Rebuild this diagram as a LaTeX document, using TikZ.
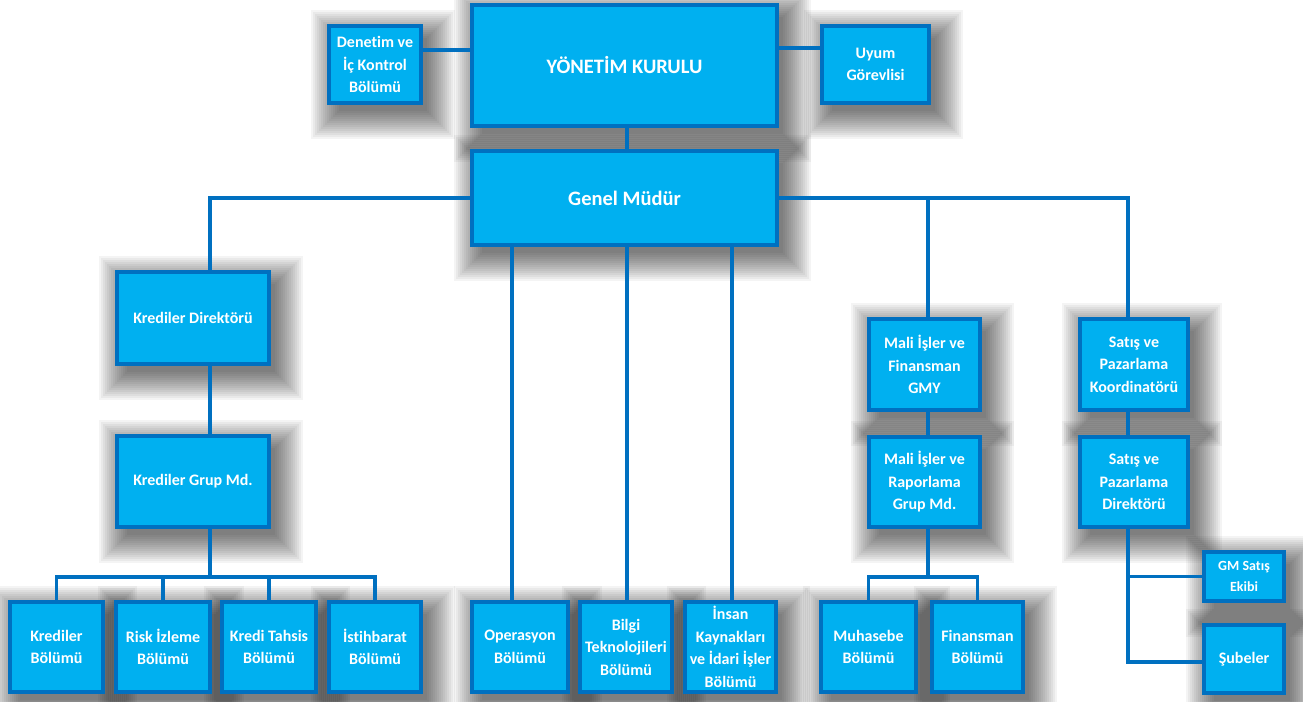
\documentclass[tikz,border=0pt]{standalone}
\usepackage{fontspec}
\setmainfont{Carlito}[Ligatures=CommonOff]
\usetikzlibrary{calc}
\pgfdeclarelayer{bgfill}
\pgfdeclarelayer{shadow}
\pgfsetlayers{bgfill,shadow,main}
\definecolor{boxfill}{HTML}{00B0F0}
\definecolor{boxline}{HTML}{0070C0}
\tikzset{
  box/.style={draw=boxline, line width=4pt, fill=boxfill, text=white,
    font=\bfseries\fontsize{16}{22.5}\selectfont, align=center, inner sep=0pt},
  bigbox/.style={box, font=\bfseries\fontsize{20.5}{24}\selectfont},
  smallbox/.style={box, font=\bfseries\fontsize{14}{21}\selectfont},
  conn/.style={draw=boxline, line width=3.5pt},
  shadowlayer/.style={fill=black, opacity=0.045}
}
\begin{document}
\begin{tikzpicture}[x=1pt,y=-1pt]
\begin{pgfonlayer}{bgfill}
\fill[white] (0,0) rectangle (1303,701);
\end{pgfonlayer}
\useasboundingbox (0,0) rectangle (1303,701);
% top
\node[bigbox, minimum width=305, minimum height=121] (yk) at (624.5,65.5) {YÖNETİM KURULU};
\node[box, minimum width=92, minimum height=77] (den) at (375,64.5) {Denetim ve\\İç Kontrol\\Bölümü};
\node[box, minimum width=107, minimum height=77] (uy) at (875.5,64.5) {Uyum\\Görevlisi};
\node[bigbox, minimum width=305, minimum height=94] (gm) at (624.5,198) {Genel Müdür};
% left branch
\node[box, minimum width=152, minimum height=92] (kd) at (193,318) {Krediler Direktörü};
\node[box, minimum width=152, minimum height=91] (kg) at (193,481.5) {Krediler Grup Md.};
\node[box, minimum width=93, minimum height=90] (kb) at (56.5,647) {Krediler\\Bölümü};
\node[box, minimum width=94, minimum height=90] (ri) at (163,647) {Risk İzleme\\Bölümü};
\node[box, minimum width=94, minimum height=90] (kt) at (269,647) {Kredi Tahsis\\Bölümü};
\node[box, minimum width=92, minimum height=90] (ist) at (375,647) {İstihbarat\\Bölümü};
% middle
\node[box, minimum width=96, minimum height=90] (op) at (520,647) {Operasyon\\Bölümü};
\node[box, minimum width=92, minimum height=90] (bt) at (626,647) {Bilgi\\Teknolojileri\\Bölümü};
\node[box, minimum width=91, minimum height=90] (ik) at (730.5,647) {İnsan\\Kaynakları\\ve İdari İşler\\Bölümü};
% finance
\node[box, minimum width=111, minimum height=91] (mf) at (924.5,364.5) {Mali İşler ve\\Finansman\\GMY};
\node[box, minimum width=111, minimum height=90] (mr) at (924.5,482) {Mali İşler ve\\Raporlama\\Grup Md.};
\node[box, minimum width=95, minimum height=90] (mu) at (868.5,647) {Muhasebe\\Bölümü};
\node[box, minimum width=91, minimum height=90] (fi) at (977.5,647) {Finansman\\Bölümü};
% sales
\node[box, minimum width=108, minimum height=91] (sk) at (1134,364.5) {Satış ve\\Pazarlama\\Koordinatörü};
\node[box, minimum width=108, minimum height=90] (sd) at (1134,482) {Satış ve\\Pazarlama\\Direktörü};
\node[smallbox, minimum width=80, minimum height=49] (gs) at (1244,576.5) {GM Satış\\Ekibi};
\node[box, minimum width=80, minimum height=68] (su) at (1244,659) {Şubeler};

% soft shadows
\begin{pgfonlayer}{shadow}
\foreach \n in {yk,den,uy,gm,kd,kg,kb,ri,kt,ist,op,bt,ik,mf,mr,mu,fi,sk,sd,gs,su}{
  \foreach \r in {0,2,...,28}{
    \fill[shadowlayer] ($(\n.north west)+(12-\r,14-\r)$) rectangle ($(\n.south east)+(4+\r,6+\r)$);
  }
}
\end{pgfonlayer}

% connectors
\draw[conn] ([yshift=14.5pt]den.east) -- ([yshift=14.5pt]den.east -| yk.west);
\draw[conn] ([yshift=16.5pt]uy.west) -- ([yshift=16.5pt]uy.west -| yk.east);
\draw[conn] ([xshift=2.5pt]yk.south) -- ([xshift=2.5pt]gm.north);
\draw[conn] (gm.west) -| ([xshift=17pt]kd.north);
\draw[conn] (gm.east) -| ([xshift=-6pt]sk.north);
\draw[conn] ([xshift=3.5pt]mf.north) -- ([xshift=3.5pt]mf.north |- gm.east);
\draw[conn] ([xshift=17pt]kd.south) -- ([xshift=17pt]kg.north);
\coordinate (kbus) at (210,577);
\draw[conn] ([xshift=17pt]kg.south) -- (kbus);
\draw[conn] (kb.north) |- (kbus) -| (ist.north);
\draw[conn] (ri.north) -- (ri.north |- kbus);
\draw[conn] (kt.north) -- (kt.north |- kbus);
\draw[conn] ([xshift=-8pt]op.north) -- ([xshift=-8pt]op.north |- gm.south);
\draw[conn] ([xshift=1pt]bt.north) -- ([xshift=1pt]bt.north |- gm.south);
\draw[conn] ([xshift=1.5pt]ik.north) -- ([xshift=1.5pt]ik.north |- gm.south);
\draw[conn] ([xshift=3.5pt]mf.south) -- ([xshift=3.5pt]mr.north);
\coordinate (mbus) at (928,577);
\draw[conn] ([xshift=3.5pt]mr.south) -- (mbus);
\draw[conn] (mu.north) |- (mbus) -| (fi.north);
\draw[conn] ([xshift=-6pt]sk.south) -- ([xshift=-6pt]sd.north);
\coordinate (sdl) at ([xshift=-6pt]sd.south);
\draw[conn] (sdl) |- ([yshift=-3pt]su.west);
\draw[conn] (gs.west) -- (gs.west -| sdl);
\end{tikzpicture}
\end{document}
